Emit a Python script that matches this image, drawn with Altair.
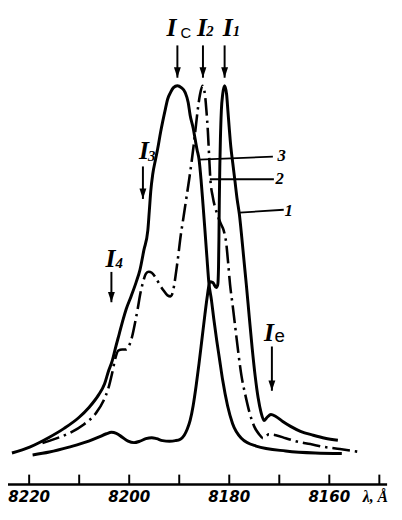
import altair as alt
import pandas as pd

# ---- Curve 1 (solid, narrow line I1 with background structure) ----
c1_lam = [8219.31, 8215.96, 8212.03, 8208.09, 8206.12, 8204.55, 8203.56, 8202.58, 8201.40, 8200.22,
          8199.04, 8197.85, 8196.67, 8195.49, 8194.51, 8193.33, 8191.95, 8190.77, 8189.78, 8189.00,
          8188.41, 8187.82, 8187.22, 8186.63, 8186.04, 8185.45, 8184.86, 8184.37, 8183.88, 8183.29,
          8182.60, 8182.30, 8182.15, 8182.07, 8181.99, 8181.89, 8181.77, 8181.58, 8181.32, 8180.93,
          8180.53, 8180.28, 8180.02, 8179.69, 8179.29, 8178.86, 8178.46, 8177.97, 8177.52, 8177.07,
          8176.59, 8176.00, 8175.41, 8174.82, 8174.23, 8173.64, 8173.05, 8172.46, 8171.67, 8170.69,
          8169.31, 8167.74, 8165.77, 8163.21, 8160.85, 8158.29]
c1_int = [7.41, 8.15, 9.38, 10.86, 11.85, 12.72, 13.09, 12.84, 11.85, 10.86,
          10.49, 10.86, 11.48, 11.73, 11.48, 10.99, 10.86, 10.99, 11.36, 12.35,
          13.83, 16.05, 19.75, 24.69, 30.37, 36.54, 42.72, 47.41, 50.86, 50.62,
          49.38, 50.12, 54.32, 61.23, 71.11, 79.75, 86.67, 93.83, 97.78, 100.0,
          97.78, 93.83, 89.63, 84.69, 80.49, 76.05, 71.85, 67.65, 62.22, 56.30,
          50.12, 41.98, 34.07, 27.16, 21.73, 18.02, 16.05, 16.79, 17.53, 17.04,
          15.80, 14.57, 13.33, 12.35, 11.60, 11.11]

# ---- Curve 2 (dash-dot, line I2 with shoulders I3, I4) ----
c2_lam = [8217.34, 8214.98, 8212.03, 8209.08, 8206.71, 8205.14, 8204.15, 8203.37, 8202.78, 8202.19,
          8201.40, 8200.61, 8200.02, 8199.43, 8198.84, 8198.25, 8197.85, 8197.26, 8196.67, 8196.08,
          8195.49, 8194.70, 8193.92, 8193.13, 8192.34, 8191.75, 8191.36, 8190.96, 8190.57, 8190.18,
          8189.78, 8189.19, 8188.60, 8188.01, 8187.52, 8187.03, 8186.63, 8186.24, 8185.85, 8185.35,
          8184.86, 8184.57, 8184.27, 8184.02, 8183.78, 8183.29, 8182.50, 8181.71, 8181.12, 8180.63,
          8180.24, 8179.84, 8179.35, 8178.76, 8178.17, 8177.58, 8176.79, 8176.00, 8175.02, 8174.04,
          8173.25, 8172.66, 8172.07, 8170.69, 8168.72, 8166.75, 8163.80, 8160.85, 8157.89, 8153.96]
c2_int = [10.37, 11.36, 12.84, 15.06, 17.78, 20.99, 24.20, 28.15, 31.60, 33.58,
          33.83, 33.83, 34.81, 37.04, 40.49, 44.44, 47.41, 50.62, 52.84, 53.33,
          53.09, 51.85, 50.12, 48.64, 47.41, 47.16, 47.90, 50.37, 53.83, 57.53,
          61.73, 66.67, 71.60, 76.54, 80.99, 85.93, 90.37, 94.57, 97.78, 100.0,
          97.78, 93.83, 88.40, 82.22, 76.54, 72.10, 68.15, 65.43, 63.70, 60.74,
          55.80, 50.12, 45.19, 39.01, 32.84, 27.41, 22.47, 18.27, 14.57, 12.59,
          11.60, 12.10, 12.59, 12.35, 11.60, 10.86, 10.12, 9.38, 8.89, 8.15]

# ---- Curve 3 (solid, broad line Ic) ----
c3_lam = [8223.44, 8219.90, 8215.96, 8213.01, 8210.06, 8208.09, 8206.12, 8204.94, 8204.15, 8203.37,
          8202.78, 8201.99, 8201.20, 8200.61, 8199.63, 8198.64, 8197.85, 8197.07, 8196.28, 8195.98,
          8195.69, 8195.30, 8194.70, 8194.31, 8193.72, 8193.33, 8192.74, 8192.34, 8191.75, 8191.16,
          8190.37, 8189.59, 8188.80, 8188.21, 8187.82, 8187.22, 8186.83, 8186.44, 8186.04, 8185.65,
          8185.26, 8184.86, 8184.47, 8184.08, 8183.58, 8183.09, 8182.50, 8181.91, 8181.32, 8180.34,
          8179.35, 8177.58, 8174.63, 8168.72, 8162.82, 8157.50]
c3_int = [7.90, 9.38, 11.85, 14.07, 16.79, 19.26, 22.47, 25.19, 28.40, 31.11,
          34.07, 37.78, 41.48, 43.95, 47.16, 50.62, 53.83, 58.77, 63.70, 68.64,
          73.58, 77.78, 81.73, 84.20, 88.40, 90.86, 94.32, 96.54, 98.27, 99.51,
          100.0, 99.51, 98.27, 95.80, 92.59, 89.38, 86.67, 83.95, 81.48, 76.54,
          70.37, 63.70, 57.04, 50.62, 46.42, 41.48, 36.05, 31.11, 26.17, 19.75,
          15.31, 11.60, 9.63, 8.40, 7.90, 7.78]

# ---- Annotations ----
arrow_lam = [8190.37, 8185.26, 8180.93, 8197.26, 8203.56, 8171.48]
arrow_top = [110.1, 110.1, 110.1, 79.75, 53.3, 34.6]
arrow_tip = [102.0, 102.0, 102.0, 71.6, 45.7, 23.5]

big_i_lam = [8191.55, 8185.45, 8180.33, 8197.07, 8203.76, 8172.07]
big_i_val = [112.35, 112.35, 112.35, 81.73, 54.57, 36.05]

sub_serif_txt = ["2", "1", "3", "4"]
sub_serif_lam = [8183.88, 8178.56, 8195.49, 8201.99]
sub_serif_val = [112.35, 112.35, 81.23, 54.32]

sub_sans_txt = ["C", "e"]
sub_sans_lam = [8188.70, 8169.90]
sub_sans_val = [111.85, 35.80]
sub_sans_size = [15, 19]

curve_num_txt = ["3", "2", "1"]
curve_num_lam = [8169.51, 8169.90, 8168.13]
curve_num_val = [81.23, 75.31, 67.41]

leader_lam1 = [8186.04, 8183.88, 8177.97]
leader_lam2 = [8171.28, 8171.08, 8169.11]
leader_val1 = [81.48, 76.54, 68.15]
leader_val2 = [82.22, 76.54, 68.89]

tick_vals = [8220, 8210, 8200, 8190, 8180, 8170, 8160, 8150]
tick_labels = ["8220", "8200", "8180", "8160"]
axis_ends = [8224.23, 8148.45]

xs = alt.Scale(domain=[8147.07, 8224.23], reverse=True, nice=False, zero=False)
ys = alt.Scale(domain=[-4.94, 118.52], nice=False, zero=False)
X = lambda f: alt.X(f, type="quantitative", scale=xs, axis=None)
Y = lambda f: alt.Y(f, type="quantitative", scale=ys, axis=None)

solid_df = pd.concat([
    pd.DataFrame({"lam": c1_lam, "val": c1_int, "idx": range(len(c1_lam)), "curve": "1"}),
    pd.DataFrame({"lam": c3_lam, "val": c3_int, "idx": range(len(c3_lam)), "curve": "3"}),
])
dash_df = pd.DataFrame({"lam": c2_lam, "val": c2_int, "idx": range(len(c2_lam))})

solid = alt.Chart(solid_df).mark_line(color="black", strokeWidth=3, interpolate="monotone").encode(
    x=X("lam"), y=Y("val"), detail="curve:N", order="idx:Q")
dash = alt.Chart(dash_df).mark_line(color="black", strokeWidth=2.6, interpolate="monotone",
                                    strokeDash=[18, 5, 2.5, 5]).encode(
    x=X("lam"), y=Y("val"), order="idx:Q")

arr_df = pd.DataFrame({"lam": arrow_lam, "top": arrow_top, "tip": arrow_tip})
shafts = alt.Chart(arr_df).mark_rule(color="black", strokeWidth=2).encode(
    x=X("lam"), y=Y("top"), y2="tip")
heads = alt.Chart(arr_df).mark_point(shape="M-1,-3L1,-3L0,0Z", size=49, filled=True,
                                     color="black", opacity=1).encode(x=X("lam"), y=Y("tip"))

big_i = alt.Chart(pd.DataFrame({"lam": big_i_lam, "val": big_i_val, "t": ["I"] * 6})).mark_text(
    font="Liberation Serif", fontStyle="italic", fontWeight="bold", fontSize=26,
    baseline="alphabetic", align="center", color="black").encode(x=X("lam"), y=Y("val"), text="t:N")
sub_serif = alt.Chart(pd.DataFrame({"lam": sub_serif_lam, "val": sub_serif_val, "t": sub_serif_txt})).mark_text(
    font="Liberation Serif", fontStyle="italic", fontWeight="bold", fontSize=15,
    baseline="alphabetic", align="center", color="black").encode(x=X("lam"), y=Y("val"), text="t:N")
sub_sans = alt.Chart(pd.DataFrame({"lam": sub_sans_lam, "val": sub_sans_val, "t": sub_sans_txt,
                                   "s": sub_sans_size})).mark_text(
    font="Liberation Sans", baseline="alphabetic", align="center", color="black").encode(
    x=X("lam"), y=Y("val"), text="t:N", size=alt.Size("s:Q", scale=None, legend=None))
curve_nums = alt.Chart(pd.DataFrame({"lam": curve_num_lam, "val": curve_num_val, "t": curve_num_txt})).mark_text(
    font="Liberation Serif", fontStyle="italic", fontWeight="bold", fontSize=17,
    baseline="alphabetic", align="center", color="black").encode(x=X("lam"), y=Y("val"), text="t:N")
leaders = alt.Chart(pd.DataFrame({"l1": leader_lam1, "l2": leader_lam2, "v1": leader_val1,
                                  "v2": leader_val2})).mark_rule(color="black", strokeWidth=1.8).encode(
    x=X("l1"), x2="l2", y=Y("v1"), y2="v2")

axis_line = alt.Chart(pd.DataFrame({"a": [axis_ends[0]], "b": [axis_ends[1]], "v": [0.0]})).mark_rule(
    color="black", strokeWidth=2.5).encode(x=X("a"), x2="b", y=Y("v"))
ticks = alt.Chart(pd.DataFrame({"lam": tick_vals, "v0": 0.0, "v1": 2.47})).mark_rule(
    color="black", strokeWidth=2).encode(x=X("lam"), y=Y("v0"), y2="v1")
tick_text = alt.Chart(pd.DataFrame({"lam": [int(t) for t in tick_labels], "v": -4.44,
                                    "t": tick_labels})).mark_text(
    font="Liberation Sans Narrow, DejaVu Sans Condensed, Liberation Sans", fontStyle="italic",
    fontWeight="bold", fontSize=17, baseline="alphabetic", align="center", color="black").encode(
    x=X("lam"), y=Y("v"), text="t:N")
unit_text = alt.Chart(pd.DataFrame({"lam": [8150.80], "v": [-4.44], "t": ["λ, Å"]})).mark_text(
    font="Liberation Serif", fontStyle="italic", fontWeight="bold", fontSize=16,
    baseline="alphabetic", align="center", color="black").encode(x=X("lam"), y=Y("v"), text="t:N")

chart = alt.layer(solid, dash, leaders, shafts, heads, big_i, sub_serif, sub_sans, curve_nums,
                  axis_line, ticks, tick_text, unit_text).properties(
    width=392, height=500, autosize=alt.AutoSizeParams(type="none"), padding=0,
    background="white").configure_view(stroke=None)

chart.save("out.html", embed_options={"renderer": "svg", "actions": False})
